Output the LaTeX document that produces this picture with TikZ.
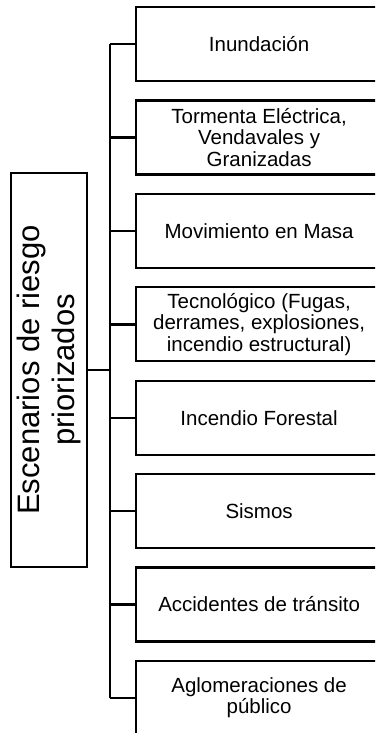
\documentclass[tikz,border=0pt]{standalone}
\usepackage{fontspec}
\setmainfont{Liberation Sans}
\begin{document}
\begin{tikzpicture}[x=1pt,y=-1pt,
  item/.style={draw, line width=2.2pt, anchor=north west, minimum width=246pt, minimum height=74pt, inner sep=0pt, align=center, font=\fontsize{20.5}{21.5}\selectfont},
  rootbox/.style={draw, line width=2.2pt, minimum width=76pt, minimum height=394pt, inner sep=0pt},
  roottext/.style={rotate=90, align=center, inner sep=0pt, font=\fontsize{31}{35}\selectfont},
  conn/.style={line width=2.4pt},
  trunkline/.style={line width=2.7pt}]
\useasboundingbox (0,0) rectangle (375,733);
\clip (0,0) rectangle (375,733);
\fill[white] (0,0) rectangle (375,733);
\node[item] (b1) at (135,6) {Inundación};
\node[item] (b2) at (135,99.4) {Tormenta Eléctrica,\\Vendavales y\\Granizadas};
\node[item] (b3) at (135,192.8) {Movimiento en Masa};
\node[item] (b4) at (135,286.2) {Tecnológico (Fugas,\\derrames, explosiones,\\incendio estructural)};
\node[item] (b5) at (135,379.6) {Incendio Forestal};
\node[item] (b6) at (135,473) {Sismos};
\node[item] (b7) at (135,566.4) {Accidentes de tránsito};
\node[item] (b8) at (135,659.8) {Aglomeraciones de\\público};
\node[rootbox] (root) at (49,370) {};
\node[roottext] (rt) at (root.center) {Escenarios de riesgo\\priorizados};
\coordinate (trunk) at (110,0);
\draw[trunkline] (trunk |- b1.west) -- (trunk |- b8.west);
\draw[conn] (root.east) -- (root.east -| trunk);
\foreach \i in {1,...,8} {
  \draw[conn] (b\i.west) -- (b\i.west -| trunk);
}
\end{tikzpicture}
\end{document}
